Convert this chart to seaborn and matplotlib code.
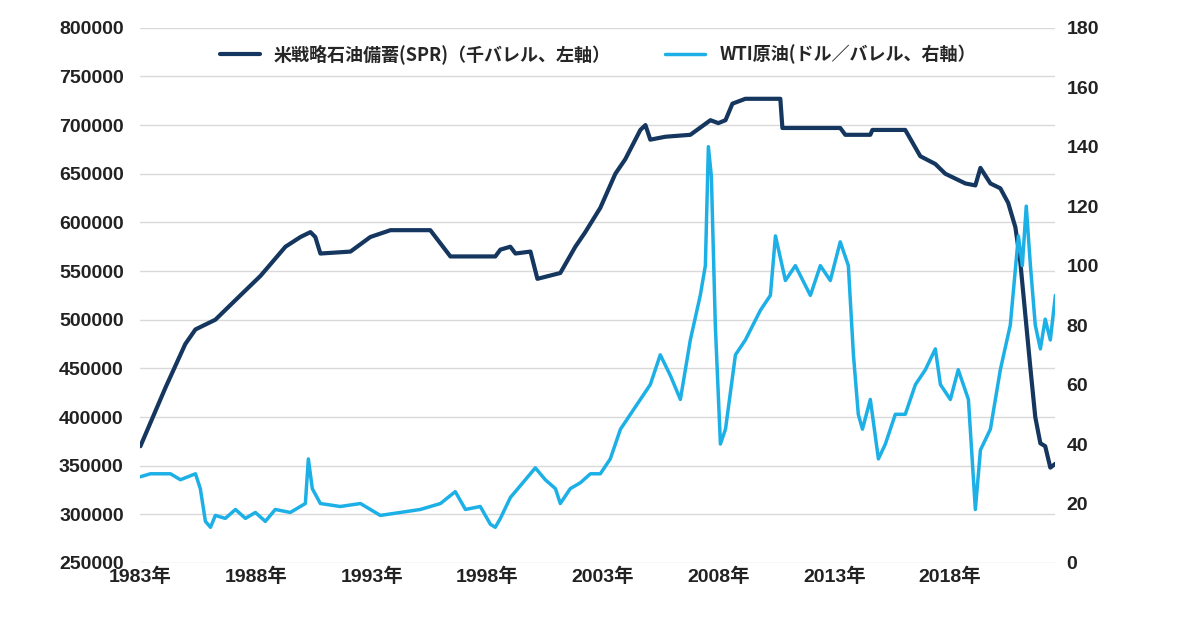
import matplotlib
matplotlib.use("Agg")
import matplotlib.pyplot as plt
import seaborn as sns

sns.set_theme(style="white")
plt.rcParams['font.family'] = ['Liberation Sans', 'Noto Sans CJK JP', 'DejaVu Sans']

# 米戦略石油備蓄 (千バレル)
spr_year = [1983.0, 1984.08, 1984.94, 1985.38, 1986.24, 1987.32, 1988.19, 1989.27, 1989.92, 1990.35,
            1990.56, 1990.78, 1992.08, 1992.94, 1993.81, 1995.53, 1996.40, 1998.34, 1998.56, 1998.99,
            1999.21, 1999.86, 2000.16, 2001.15, 2001.80, 2002.23, 2002.88, 2003.53, 2003.96, 2004.61,
            2004.83, 2005.04, 2005.69, 2006.77, 2007.64, 2007.98, 2008.29, 2008.59, 2009.15, 2010.66,
            2010.75, 2013.25, 2013.47, 2014.55, 2014.64, 2016.06, 2016.71, 2017.36, 2017.79, 2018.66,
            2019.09, 2019.31, 2019.74, 2020.17, 2020.51, 2020.82, 2021.03, 2021.47, 2021.68, 2021.90,
            2022.11, 2022.33, 2022.55]
spr_value = [370000, 430000, 475000, 490000, 500000, 525000, 545000, 575000, 585000, 590000,
             585000, 568000, 570000, 585000, 592000, 592000, 565000, 565000, 572000, 575000,
             568000, 570000, 542000, 548000, 575000, 590000, 615000, 650000, 665000, 695000,
             700000, 685000, 688000, 690000, 705000, 702000, 705000, 722000, 727000, 727000,
             697000, 697000, 690000, 690000, 695000, 695000, 668000, 660000, 650000, 640000,
             638000, 656000, 640000, 635000, 620000, 595000, 560000, 450000, 400000, 373000,
             370000, 348000, 352000]

# WTI原油 (ドル/バレル)
wti_year = [1983.0, 1983.43, 1984.30, 1984.73, 1985.38, 1985.59, 1985.81, 1986.03, 1986.24, 1986.67,
            1987.11, 1987.54, 1987.97, 1988.40, 1988.83, 1989.48, 1990.13, 1990.26, 1990.43, 1990.78,
            1991.64, 1992.51, 1993.37, 1994.24, 1995.10, 1995.97, 1996.61, 1997.05, 1997.69, 1998.13,
            1998.34, 1998.56, 1998.99, 1999.64, 2000.07, 2000.50, 2000.94, 2001.15, 2001.58, 2002.02,
            2002.45, 2002.88, 2003.31, 2003.75, 2004.18, 2004.61, 2005.04, 2005.47, 2005.91, 2006.34,
            2006.77, 2007.20, 2007.42, 2007.55, 2007.68, 2007.85, 2008.07, 2008.29, 2008.72, 2009.15,
            2009.80, 2010.23, 2010.45, 2010.88, 2011.31, 2011.96, 2012.39, 2012.82, 2013.25, 2013.60,
            2013.82, 2014.03, 2014.21, 2014.55, 2014.90, 2015.20, 2015.63, 2016.06, 2016.50, 2016.93,
            2017.36, 2017.58, 2018.01, 2018.35, 2018.79, 2019.09, 2019.31, 2019.74, 2020.17, 2020.60,
            2020.95, 2021.12, 2021.29, 2021.47, 2021.68, 2021.90, 2022.11, 2022.33, 2022.55]
wti_value = [29, 30, 30, 28, 30, 25, 14, 12, 16, 15,
             18, 15, 17, 14, 18, 17, 20, 35, 25, 20,
             19, 20, 16, 17, 18, 20, 24, 18, 19, 13,
             12, 15, 22, 28, 32, 28, 25, 20, 25, 27,
             30, 30, 35, 45, 50, 55, 60, 70, 63, 55,
             75, 90, 100, 140, 130, 80, 40, 45, 70, 75,
             85, 90, 110, 95, 100, 90, 100, 95, 108, 100,
             70, 50, 45, 55, 35, 40, 50, 50, 60, 65,
             72, 60, 55, 65, 55, 18, 38, 45, 65, 80,
             110, 100, 120, 100, 80, 72, 82, 75, 90]

tick_years = [1983, 1988, 1993, 1998, 2003, 2008, 2013, 2018]
tick_labels = [f"{y}年" for y in tick_years]

navy = "#14365f"
light = "#1cb0e6"

fig = plt.figure(figsize=(12, 6.41), dpi=100)
ax = fig.add_axes([0.117, 0.1217, 0.7625, 0.835])
ax2 = ax.twinx()

sns.lineplot(x=spr_year, y=spr_value, ax=ax, color=navy, linewidth=3,
             label="米戦略石油備蓄(SPR)（千バレル、左軸）", legend=False)
sns.lineplot(x=wti_year, y=wti_value, ax=ax2, color=light, linewidth=2.5,
             label="WTI原油(ドル／バレル、右軸）", legend=False)

ax.set_xlim(1983, 2022.55)
ax.set_ylim(250000, 800000)
ax.set_yticks(range(250000, 800001, 50000))
ax2.set_ylim(0, 180)
ax2.set_yticks(range(0, 181, 20))
ax.set_xticks(tick_years)
ax.set_xticklabels(tick_labels)
ax.grid(axis='y', color='#d9d9d9', linewidth=1)
ax.grid(axis='x', visible=False)
ax2.grid(False)
for a in (ax, ax2):
    for s in a.spines.values():
        s.set_visible(False)
    a.tick_params(length=0, labelsize=14, labelcolor='#222222')
    for lbl in a.get_xticklabels() + a.get_yticklabels():
        lbl.set_fontweight('bold')
ax.tick_params(axis='y', pad=12)
ax2.tick_params(axis='y', pad=8)

h1, l1 = ax.get_legend_handles_labels()
h2, l2 = ax2.get_legend_handles_labels()
ax2.legend(h1 + h2, l1 + l2, loc='upper center', bbox_to_anchor=(0.5, 1.0), ncol=2,
           frameon=False, prop={'family': ['Noto Sans CJK JP', 'DejaVu Sans'], 'weight': 'bold', 'size': 13},
           handlelength=2.2, columnspacing=3)

fig.savefig("out.png", dpi=100)
